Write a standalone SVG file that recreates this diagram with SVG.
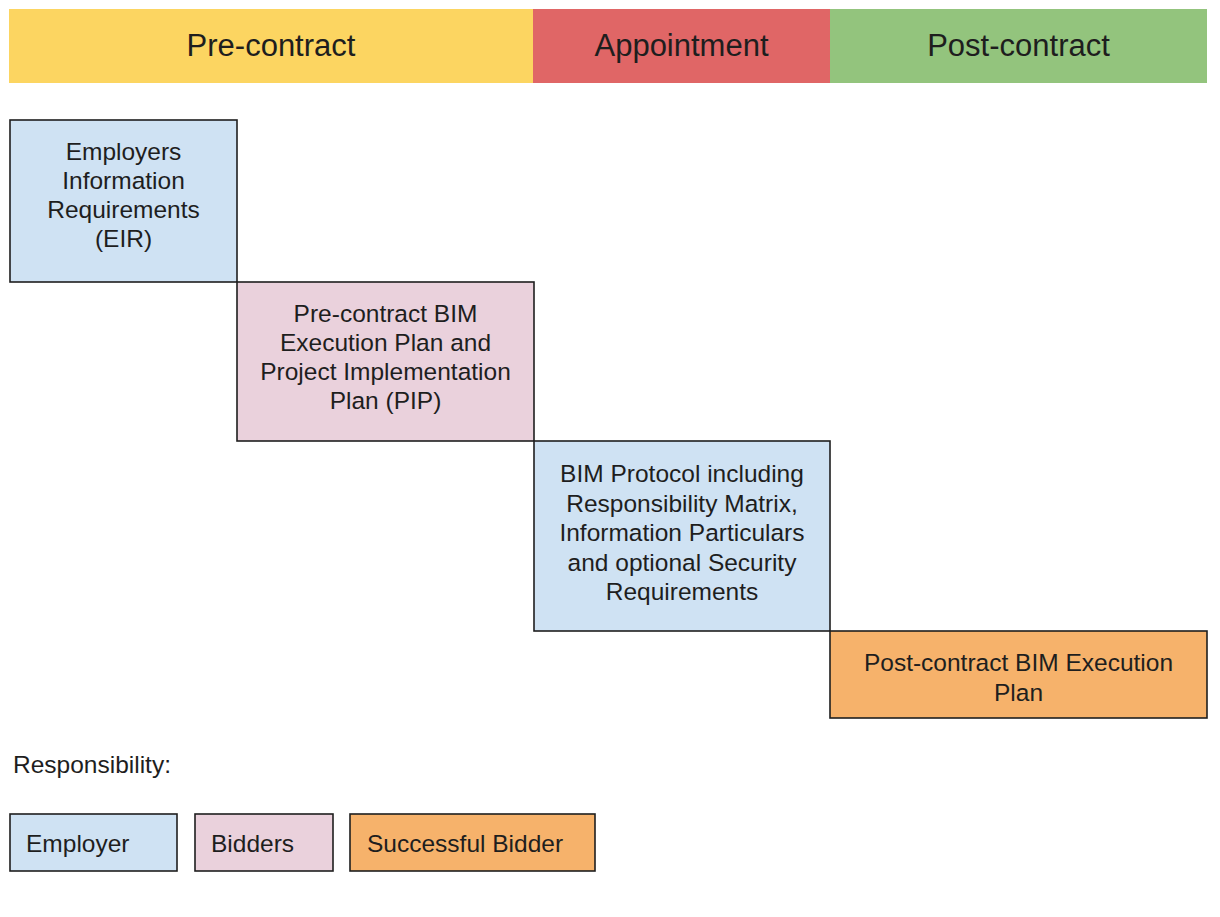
<svg xmlns="http://www.w3.org/2000/svg" width="1220" height="917" viewBox="0 0 1220 917">
  <style>
    text { font-family: "Liberation Sans", Arial, sans-serif; fill: #1e1e1e; }
    .phase { font-size: 31px; text-anchor: middle; }
    .label { font-size: 24.5px; text-anchor: middle; }
    .legend { font-size: 24.5px; }
    .box { stroke: #1f1f1f; stroke-width: 1.6; }
    .employer { fill: #cfe2f3; }
    .bidders { fill: #ead1dc; }
    .successful { fill: #f6b26b; }
  </style>
  <rect width="1220" height="917" fill="#ffffff"/>

  <!-- Phase bar -->
  <g id="phases">
    <g id="phase-pre">
      <rect x="9" y="9" width="524" height="74" fill="#fcd561"/>
      <text class="phase" x="271" y="56">Pre-contract</text>
    </g>
    <g id="phase-appointment">
      <rect x="533" y="9" width="297" height="74" fill="#e06666"/>
      <text class="phase" x="681.5" y="56">Appointment</text>
    </g>
    <g id="phase-post">
      <rect x="830" y="9" width="377" height="74" fill="#93c47d"/>
      <text class="phase" x="1018.5" y="56">Post-contract</text>
    </g>
  </g>

  <!-- Document steps -->
  <g id="eir">
    <rect class="box employer" x="10" y="120" width="227" height="162"/>
    <text class="label" x="123.5" y="160">Employers</text>
    <text class="label" x="123.5" y="189">Information</text>
    <text class="label" x="123.5" y="218">Requirements</text>
    <text class="label" x="123.5" y="247">(EIR)</text>
  </g>
  <g id="pre-contract-bep">
    <rect class="box bidders" x="237" y="282" width="297" height="159"/>
    <text class="label" x="385.5" y="322">Pre-contract BIM</text>
    <text class="label" x="385.5" y="351">Execution Plan and</text>
    <text class="label" x="385.5" y="380">Project Implementation</text>
    <text class="label" x="385.5" y="409">Plan (PIP)</text>
  </g>
  <g id="bim-protocol">
    <rect class="box employer" x="534" y="441" width="296" height="190"/>
    <text class="label" x="682" y="482">BIM Protocol including</text>
    <text class="label" x="682" y="511.5">Responsibility Matrix,</text>
    <text class="label" x="682" y="541">Information Particulars</text>
    <text class="label" x="682" y="570.5">and optional Security</text>
    <text class="label" x="682" y="600">Requirements</text>
  </g>
  <g id="post-contract-bep">
    <rect class="box successful" x="830" y="631" width="377" height="87"/>
    <text class="label" x="1018.5" y="671">Post-contract BIM Execution</text>
    <text class="label" x="1018.5" y="701">Plan</text>
  </g>

  <g id="connectors"></g>

  <!-- Legend -->
  <g id="legend">
    <text class="legend" x="13" y="773">Responsibility:</text>
    <g id="legend-employer">
      <rect class="box employer" x="10" y="814" width="167" height="57"/>
      <text class="legend" x="26" y="852">Employer</text>
    </g>
    <g id="legend-bidders">
      <rect class="box bidders" x="195" y="814" width="138" height="57"/>
      <text class="legend" x="211" y="852">Bidders</text>
    </g>
    <g id="legend-successful">
      <rect class="box successful" x="350" y="814" width="245" height="57"/>
      <text class="legend" x="367" y="852">Successful Bidder</text>
    </g>
  </g>
</svg>
